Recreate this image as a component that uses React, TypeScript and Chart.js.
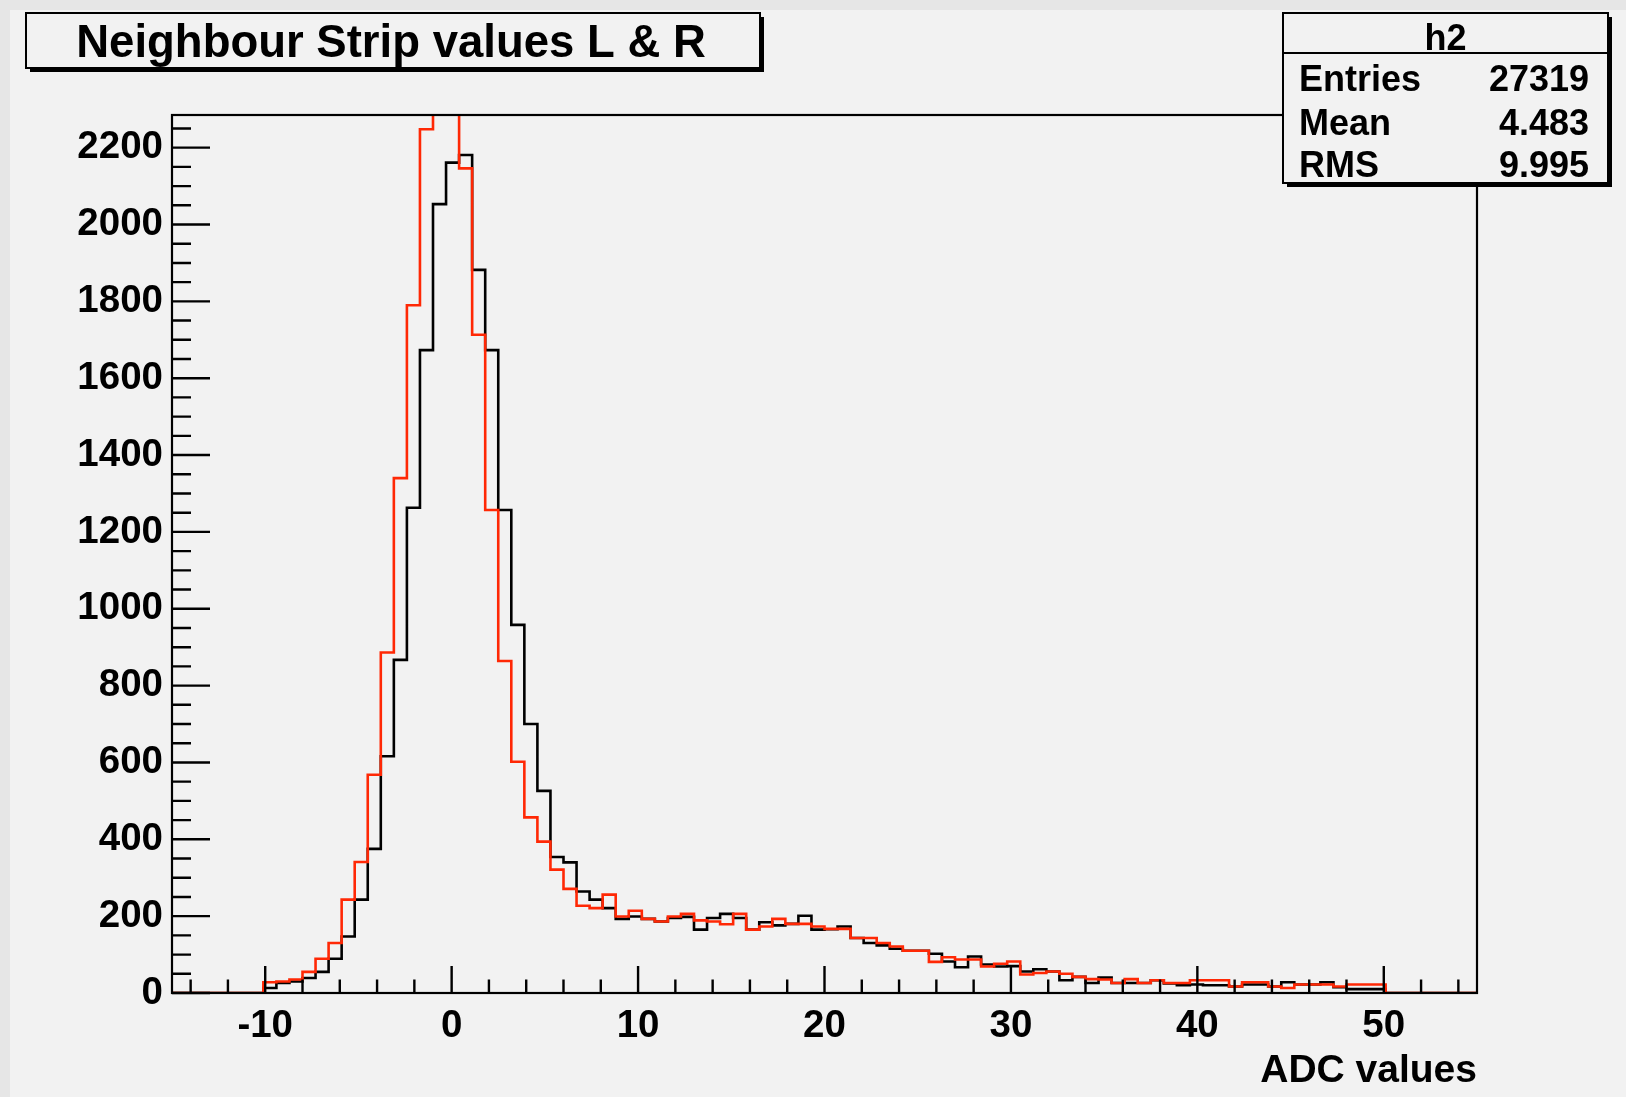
import React, { useEffect, useRef } from 'react';
import { Chart, registerables } from 'chart.js';

Chart.register(...registerables);

// ---- histogram definition (TH1F, 100 bins from -15 to 55) ----
const X_MIN = -15;
const X_MAX = 55;
const N_BINS = 100;
const Y_MIN = 0;
const Y_MAX = 2285;

const xTickLabels = [-10, 0, 10, 20, 30, 40, 50];
const yTickLabels = [0, 200, 400, 600, 800, 1000, 1200, 1400, 1600, 1800, 2000, 2200];
const X_MINOR_STEP = 2;
const Y_MINOR_STEP = 50;

// black histogram (h2)
const blackCounts = [
  0, 0, 0, 0, 0, 0, 0,
  13, 26, 30, 39, 55, 89, 147, 243, 375,
  616, 867, 1263, 1673, 2053, 2161, 2181, 1882, 1673, 1257,
  958, 700, 526, 354, 340, 264, 243, 221, 193, 199,
  193, 186, 195, 198, 165, 195, 206, 195, 165, 184,
  176, 180, 201, 165, 166, 173, 143, 130, 124, 115,
  110, 110, 102, 82, 67, 95, 74, 69, 70, 56,
  62, 56, 33, 42, 26, 40, 26, 26, 26, 33,
  25, 20, 22, 20, 20, 17, 22, 22, 17, 28,
  22, 22, 28, 15, 10, 10, 10, 0, 0, 0,
  0, 0, 0, 0,
];

// red histogram
const redCounts = [
  0, 0, 0, 0, 0, 0, 0,
  28, 30, 35, 55, 89, 130, 243, 341, 568,
  886, 1340, 1790, 2248, 2380, 2340, 2146, 1713, 1257, 864,
  602, 457, 394, 321, 271, 227, 221, 256, 199, 214,
  193, 186, 199, 206, 189, 186, 179, 206, 165, 173,
  193, 180, 180, 173, 167, 167, 143, 143, 130, 121,
  110, 110, 81, 93, 87, 87, 69, 76, 82, 48,
  52, 56, 50, 42, 36, 35, 26, 36, 26, 33,
  26, 26, 33, 33, 33, 17, 28, 28, 17, 13,
  22, 22, 22, 17, 22, 22, 22, 0, 0, 0,
  0, 0, 0, 0,
];

const titleText = 'Neighbour Strip values L & R';
const xAxisTitle = 'ADC values';
const statsName = 'h2';
const statsLabels = ['Entries', 'Mean', 'RMS'];
const statsValues = ['27319', '4.483', '9.995'];

// ---- styling ----
const W = 1626;
const H = 1097;
const PAD_BG = '#f2f2f2';
const OUTER_BG = '#e6e6e6';
const RED = 'rgb(255,40,5)';
const FONT = '"Liberation Sans", Arial, Helvetica, sans-serif';

const binWidth = (X_MAX - X_MIN) / N_BINS;
const edges = Array.from({ length: N_BINS + 1 }, (_, i) => X_MIN + i * binWidth);

function stepPoints(counts: number[]) {
  const pts = counts.map((c, i) => ({ x: edges[i], y: c }));
  pts.push({ x: edges[N_BINS], y: counts[N_BINS - 1] });
  return pts;
}

const rootFramePlugin = {
  id: 'rootFrame',
  afterDatasetsDraw(chart: any) {
    const { ctx, chartArea: a, scales } = chart;
    const xs = scales.x;
    const ys = scales.y;
    ctx.save();
    ctx.strokeStyle = '#000';
    ctx.lineWidth = 2.2;
    ctx.strokeRect(a.left, a.top, a.right - a.left, a.bottom - a.top);
    ctx.lineWidth = 2.4;
    ctx.beginPath();
    for (let v = Y_MIN; v <= Y_MAX; v += Y_MINOR_STEP) {
      const y = ys.getPixelForValue(v);
      const len = yTickLabels.includes(v) ? 38 : 19;
      ctx.moveTo(a.left, y);
      ctx.lineTo(a.left + len, y);
    }
    const firstMinor = Math.ceil(X_MIN / X_MINOR_STEP) * X_MINOR_STEP;
    for (let v = firstMinor; v <= X_MAX; v += X_MINOR_STEP) {
      if (v <= X_MIN || v >= X_MAX) continue;
      const x = xs.getPixelForValue(v);
      const len = xTickLabels.includes(v) ? 27 : 13.5;
      ctx.moveTo(x, a.bottom);
      ctx.lineTo(x, a.bottom - len);
    }
    ctx.stroke();
    ctx.restore();
  },
  afterDraw(chart: any) {
    const { ctx } = chart;
    ctx.save();
    const drawBox = (x: number, y: number, w: number, h: number) => {
      ctx.fillStyle = '#000';
      ctx.fillRect(x + 4, y + 4, w, h);
      ctx.fillStyle = PAD_BG;
      ctx.fillRect(x, y, w, h);
      ctx.lineWidth = 2;
      ctx.strokeStyle = '#000';
      ctx.strokeRect(x, y, w, h);
    };
    // title box
    drawBox(26, 13, 734, 55);
    ctx.fillStyle = '#000';
    ctx.font = `bold 45.5px ${FONT}`;
    ctx.textAlign = 'center';
    ctx.textBaseline = 'alphabetic';
    ctx.fillText(titleText, 391, 57);

    // stats box
    drawBox(1283, 13, 325, 170);
    ctx.beginPath();
    ctx.moveTo(1283, 53);
    ctx.lineTo(1608, 53);
    ctx.stroke();
    ctx.fillStyle = '#000';
    ctx.font = `bold 36px ${FONT}`;
    ctx.textAlign = 'center';
    ctx.fillText(statsName, 1445.5, 50);
    const baselines = [91, 135, 177];
    statsLabels.forEach((lab, i) => {
      ctx.textAlign = 'left';
      ctx.fillText(lab, 1299, baselines[i]);
      ctx.textAlign = 'right';
      ctx.fillText(statsValues[i], 1589, baselines[i]);
    });
    ctx.restore();
  },
};

export default function App() {
  const canvasRef = useRef<HTMLCanvasElement | null>(null);

  useEffect(() => {
    const canvas = canvasRef.current;
    if (!canvas) return;
    const chart = new Chart(canvas, {
      type: 'line',
      data: {
        datasets: [
          {
            label: 'red',
            data: stepPoints(redCounts),
            borderColor: RED,
            borderWidth: 2.6,
            pointRadius: 0,
            fill: false,
            stepped: true,
            order: 0,
          },
          {
            label: 'h2',
            data: stepPoints(blackCounts),
            borderColor: '#000',
            borderWidth: 2.6,
            pointRadius: 0,
            fill: false,
            stepped: true,
            order: 1,
          },
        ],
      },
      options: {
        animation: false,
        responsive: false,
        devicePixelRatio: 1,
        events: [],
        layout: { padding: { left: 0, top: 115, right: W - 1477, bottom: 0 } },
        plugins: {
          legend: { display: false },
          tooltip: { enabled: false },
          title: { display: false },
        },
        scales: {
          x: {
            type: 'linear',
            min: X_MIN,
            max: X_MAX,
            grid: { display: false, drawTicks: false },
            border: { display: false },
            afterBuildTicks: (scale: any) => {
              scale.ticks = xTickLabels.map((v) => ({ value: v }));
            },
            afterFit: (scale: any) => {
              scale.height = H - 993;
            },
            ticks: {
              autoSkip: false,
              maxRotation: 0,
              minRotation: 0,
              padding: 10,
              color: '#000',
              font: { family: FONT, size: 38.5, weight: 'bold' },
              callback: (v: any) => String(v),
            },
            title: {
              display: true,
              text: xAxisTitle,
              align: 'end',
              color: '#000',
              font: { family: FONT, size: 39, weight: 'bold' },
              padding: { top: 0, bottom: 2 },
            },
          },
          y: {
            type: 'linear',
            min: Y_MIN,
            max: Y_MAX,
            grid: { display: false, drawTicks: false },
            border: { display: false },
            afterBuildTicks: (scale: any) => {
              scale.ticks = yTickLabels.map((v) => ({ value: v }));
            },
            afterFit: (scale: any) => {
              scale.width = 172;
            },
            ticks: {
              padding: 9,
              color: '#000',
              font: { family: FONT, size: 38.5, weight: 'bold' },
              callback: (v: any) => String(v),
            },
          },
        },
      },
      plugins: [rootFramePlugin],
    } as any);
    return () => chart.destroy();
  }, []);

  return (
    <div
      style={{
        position: 'fixed',
        left: 0,
        top: 0,
        width: W,
        height: H,
        background: OUTER_BG,
        overflow: 'hidden',
      }}
    >
      <div
        style={{
          position: 'absolute',
          left: 10,
          top: 10,
          width: W - 10,
          height: H - 10,
          background: PAD_BG,
        }}
      />
      <canvas
        ref={canvasRef}
        width={W}
        height={H}
        style={{ position: 'absolute', left: 0, top: 0, width: W, height: H }}
      />
    </div>
  );
}
